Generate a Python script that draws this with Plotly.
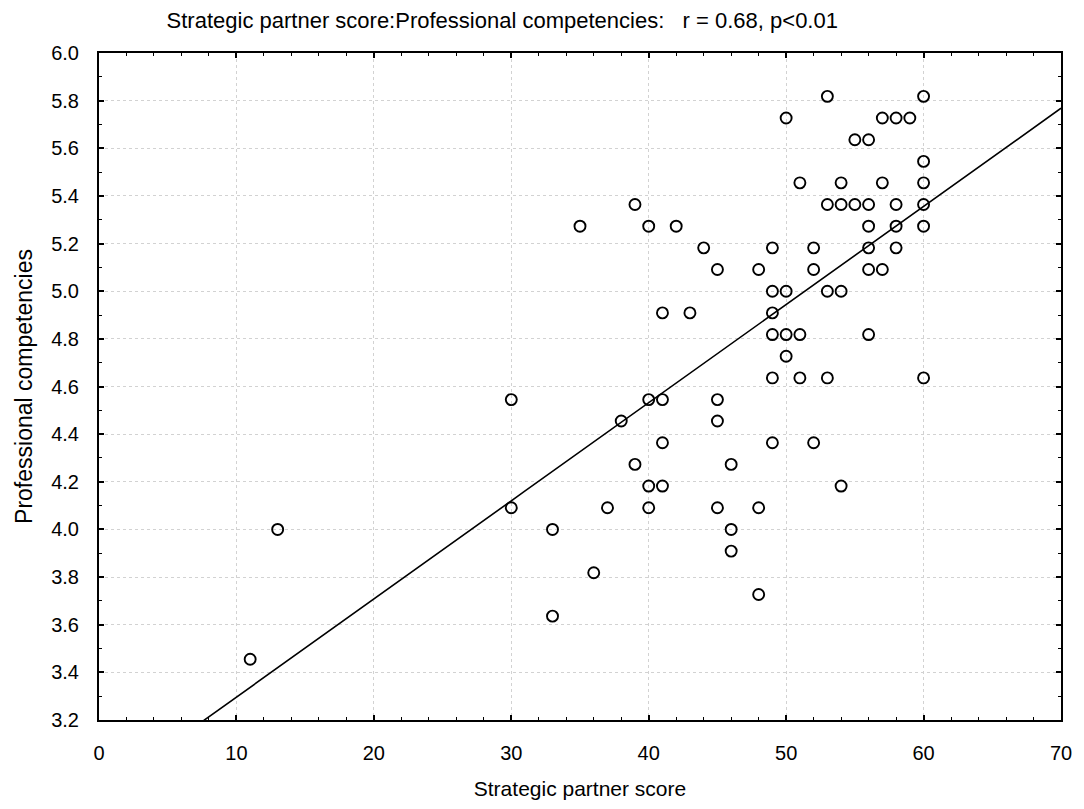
import numpy as np
import plotly.graph_objects as go

# Data (Strategic partner score vs Professional competencies)
strategic_score = [
    53, 60,
    50, 57, 58, 59,
    55, 56,
    60,
    51, 54, 57, 60,
    39, 53, 54, 55, 56, 58, 60,
    35, 40, 42, 56, 58, 60,
    44, 49, 52, 56, 58,
    45, 48, 52, 56, 57,
    49, 50, 53, 54,
    41, 43, 49,
    49, 50, 51, 56,
    50,
    49, 51, 53, 60,
    30, 40, 41, 45,
    38, 45,
    41, 49, 52,
    39, 46,
    40, 41, 54,
    30, 37, 40, 45, 48,
    13, 33, 46,
    46,
    36,
    48,
    33,
    11,
]
professional_comp = [
    5.818, 5.818,
    5.727, 5.727, 5.727, 5.727,
    5.636, 5.636,
    5.545,
    5.455, 5.455, 5.455, 5.455,
    5.364, 5.364, 5.364, 5.364, 5.364, 5.364, 5.364,
    5.273, 5.273, 5.273, 5.273, 5.273, 5.273,
    5.182, 5.182, 5.182, 5.182, 5.182,
    5.091, 5.091, 5.091, 5.091, 5.091,
    5.000, 5.000, 5.000, 5.000,
    4.909, 4.909, 4.909,
    4.818, 4.818, 4.818, 4.818,
    4.727,
    4.636, 4.636, 4.636, 4.636,
    4.545, 4.545, 4.545, 4.545,
    4.455, 4.455,
    4.364, 4.364, 4.364,
    4.273, 4.273,
    4.182, 4.182, 4.182,
    4.091, 4.091, 4.091, 4.091, 4.091,
    4.000, 4.000, 4.000,
    3.909,
    3.818,
    3.727,
    3.636,
    3.455,
]
# Regression line as drawn in the reference
fit_intercept = 2.884
fit_slope = 0.0412

x_range = [0, 70]
y_range = [3.2, 6.0]
title_text = "Strategic partner score:Professional competencies:   r = 0.68, p<0.01"

fit_x = np.linspace(x_range[0], x_range[1], 200)
fit_y = fit_intercept + fit_slope * fit_x

fig = go.Figure()
fig.add_trace(go.Scatter(
    x=fit_x, y=fit_y, mode="lines",
    line=dict(color="black", width=1.6),
    hoverinfo="skip", showlegend=False,
))
fig.add_trace(go.Scatter(
    x=strategic_score, y=professional_comp, mode="markers",
    marker=dict(symbol="circle-open", size=11, color="black",
                line=dict(color="black", width=1.9)),
    showlegend=False,
))

font_main = "Liberation Sans, Arial, sans-serif"
axis_common = dict(
    showline=True, linecolor="black", linewidth=2, mirror="ticks",
    ticks="inside", ticklen=5, tickwidth=1.5, tickcolor="black",
    showgrid=True, gridcolor="#d2d2d2", griddash="dot", gridwidth=1,
    zeroline=False,
    tickfont=dict(family=font_main, size=20, color="black"),
)

fig.update_xaxes(
    range=x_range, dtick=10, tick0=0,
    minor=dict(dtick=2, ticks="inside", ticklen=3, tickwidth=1.2,
               tickcolor="black", showgrid=False),
    ticklabelstandoff=14,
    title=dict(text="Strategic partner score",
               font=dict(family=font_main, size=21, color="black"),
               standoff=18),
    **axis_common,
)
fig.update_yaxes(
    range=y_range, dtick=0.2, tick0=3.2, tickformat=".1f",
    minor=dict(dtick=0.1, ticks="inside", ticklen=3, tickwidth=1.2,
               tickcolor="black", showgrid=False),
    ticklabelstandoff=14,
    title=dict(text="Professional competencies",
               font=dict(family=font_main, size=23, color="black"),
               standoff=12),
    **axis_common,
)

fig.update_layout(
    width=1084, height=809,
    margin=dict(l=99, r=17, t=53, b=86),
    paper_bgcolor="white", plot_bgcolor="white",
    title=dict(text=title_text, x=(167 - 99) / 968, xanchor="left", xref="paper",
               y=1 - 20 / 809, yanchor="middle",
               font=dict(family=font_main, size=22, color="black")),
)

fig.write_html("out.html")
